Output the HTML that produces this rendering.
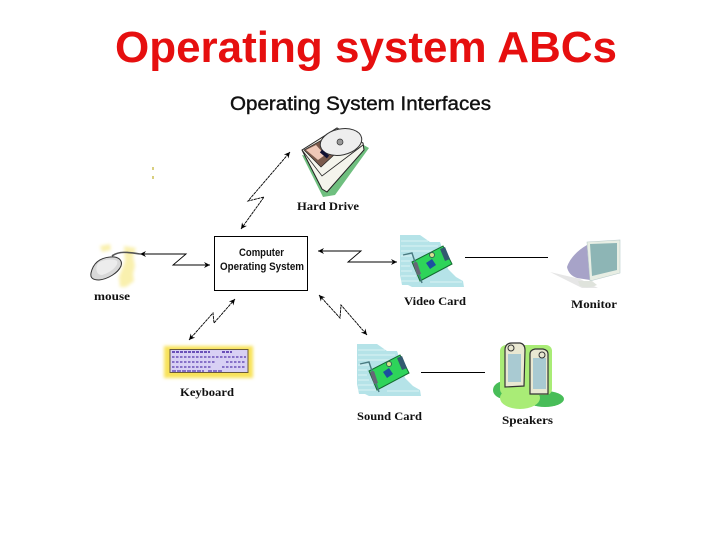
<!DOCTYPE html>
<html><head><meta charset="utf-8"><style>html,body{margin:0;padding:0;background:#fff}svg{display:block}</style></head>
<body>
<svg width="720" height="540" viewBox="0 0 720 540" xmlns="http://www.w3.org/2000/svg">
<defs>
<marker id="a" markerWidth="7" markerHeight="7" refX="6" refY="3" orient="auto-start-reverse" markerUnits="userSpaceOnUse"><path d="M0 0L6 3L0 6L2 3Z" fill="#000"/></marker>
<filter id="b" x="-20%" y="-20%" width="140%" height="140%"><feGaussianBlur stdDeviation="1.500"/></filter>
<filter id="s" x="-5%" y="-5%" width="110%" height="110%"><feGaussianBlur stdDeviation=".35"/></filter>
<g id="card">
<path d="M0 0H20L30 7H40L44 18L48 34L56 42L63 46L64 52H12L8 50H2L0 40Z" fill="#b5e3e8" filter="url(#s)"/>
<g stroke="#dcf3f5" stroke-width="1"><path d="M1 6H28M1 11H38M1 16H40M1 21H12M1 26H10M1 31H10M1 36H12M1 41H16M1 46H20M30 47H62"/></g>
<path d="M12 27L43 11L52 29L20 46Z" fill="#2ed45a" stroke="#136a30" stroke-width="1"/>
<path d="M26 28l6-4 4 6-6 4z" fill="#1c4fa0"/>
<path d="M40 14l5-2 5 12-5 2z" fill="#335a70"/>
<circle cx="32" cy="20" r="2.500" fill="#d8e090" stroke="#365"/>
<path d="M3 20L12 18L22 48" fill="none" stroke="#4a7a80" stroke-width="1.400"/>
<path d="M13 28l4-1 4 12-4 1z" fill="#667"/>
</g>
</defs>

<text x="115" y="62" font-family="Liberation Sans" font-size="44" font-weight="700" fill="#e60f0f" textLength="502" lengthAdjust="spacingAndGlyphs">Operating system ABCs</text>
<text x="230" y="110" font-family="Liberation Sans" font-size="19" fill="#111" stroke="#111" stroke-width=".4" textLength="261" lengthAdjust="spacingAndGlyphs">Operating System Interfaces</text>

<!-- hard drive -->
<path d="M302 155L323 197L335 195L369 148L360 143L330 160Z" fill="#6fbf7f"/>
<path d="M302 150L337 128L363 143L364 150L327 192L322 189Z" fill="#f4f4ec" stroke="#222" stroke-width="1"/>
<path d="M302 150L322 176L363 145" fill="none" stroke="#222" stroke-width=".8"/>
<path d="M304 150L322 140L334 155L321 167Z" fill="#7a5a4c" stroke="#222" stroke-width=".7"/>
<path d="M306 150L316 145L325 155L318 160Z" fill="#efc8b8"/>
<ellipse cx="341" cy="142" rx="21" ry="13" transform="rotate(-12 341 142)" fill="#eeeeee" stroke="#333"/>
<circle cx="340" cy="142" r="3" fill="#999" stroke="#333" stroke-width=".7"/>
<path d="M321 151L328 157" stroke="#113" stroke-width="3.500"/>

<!-- box -->
<rect x="214.500" y="236.500" width="93" height="54" fill="#fff" stroke="#000" stroke-width="1"/>
<g font-family="Liberation Sans" font-size="11" font-weight="700" fill="#111">
<text x="239" y="256" textLength="45" lengthAdjust="spacingAndGlyphs">Computer</text>
<text x="220" y="270" textLength="84" lengthAdjust="spacingAndGlyphs">Operating System</text>
</g>

<!-- mouse -->
<g fill="#f9f0ae" filter="url(#b)"><path d="M124 246l12 2-3 8 2 10-2 8 1 7-8 6-6 0-1-10 6-16z"/><path d="M100 246l10-2 1 6-9 2z"/></g>
<path d="M112 256C118 251 128 252 140 254" fill="none" stroke="#555" stroke-width="1.600"/>
<path d="M91 273C93 264 99 258 110 257C118 256 123 260 121 266C118 273 108 279 99 280C93 280 90 278 91 273Z" fill="#d8d8d8" stroke="#333" stroke-width="1"/>
<path d="M98 263C102 260 112 258 117 261C119 265 112 272 102 275C96 275 95 268 98 263Z" fill="#ececec"/>

<!-- connectors -->
<g fill="none" stroke="#000" stroke-width=".9">
<path d="M140 254H186L173 265H210" marker-start="url(#a)" marker-end="url(#a)"/>
<path d="M318 251H361L348 262H397" marker-start="url(#a)" marker-end="url(#a)"/>
<path d="M241 229L264 197L248 201L290 152" marker-start="url(#a)" marker-end="url(#a)" stroke-dasharray="3 .6"/>
<path d="M235 299L214 323L213 313L189 340" marker-start="url(#a)" marker-end="url(#a)" stroke-dasharray="3 .6"/>
<path d="M319 295L340 318L341 305L367 335" marker-start="url(#a)" marker-end="url(#a)" stroke-dasharray="3 .6"/>
</g>
<path d="M465 257.500H548M421 372.500H485" stroke="#000" stroke-width="1"/>
<rect x="152" y="167" width="2" height="3" fill="#d9cf80"/><rect x="152" y="176" width="2" height="3" fill="#d9cf80"/>

<!-- cards -->
<use href="#card" x="400" y="235"/>
<use href="#card" x="357" y="344"/>

<!-- monitor -->
<path d="M550 272L580 279L598 288H582Z" fill="#e6e6e6" filter="url(#s)"/>
<path d="M567 267C570 258 578 250 587 245L590 280L577 278C571 276 568 272 567 267Z" fill="#a7a3c8"/>
<path d="M587 242L620 240L620 273L590 281Z" fill="#e8eee4" stroke="#bcc" stroke-width=".6"/>
<path d="M590 244L617 243L617 270L592 276Z" fill="#8db5b5"/>
<path d="M578 281L592 281L597 285Q588 289 580 286Z" fill="#dfe3dc"/>

<!-- keyboard -->
<rect x="164" y="346" width="89" height="32" fill="#f8e25a" filter="url(#b)"/>
<rect x="170" y="349.500" width="78" height="23" fill="#d8d0f4" stroke="#6a5a3a" stroke-width="1"/>
<g fill="none" stroke="#6a50b8" stroke-width="2"><path d="M172 352H210M222 352H232" stroke-dasharray="3 1"/><path d="M172 357H246M172 362H216M226 362H246M172 367H212M222 367H246" stroke-dasharray="2.500 1.500" stroke-width="1.500"/><path d="M172 371H204M208 371H222" stroke-dasharray="4 1" stroke-width="1.500"/></g>

<!-- speakers -->
<ellipse cx="505" cy="390" rx="12" ry="9" fill="#48bd58"/>
<ellipse cx="545" cy="399" rx="19" ry="8" fill="#48bd58"/>
<rect x="500" y="345" width="52" height="50" rx="6" fill="#a9ec76"/>
<ellipse cx="520" cy="398" rx="20" ry="11" fill="#a9ec76"/>
<path d="M505 350Q505 343 512 343L520 343Q525 344 525 350L524 386L505 387Z" fill="#e9e8d2" stroke="#333" stroke-width="1.200"/>
<rect x="508" y="354" width="13" height="28" fill="#a9cad2"/>
<circle cx="511" cy="348" r="3" fill="#e9e8d2" stroke="#333"/>
<path d="M530 354Q530 350 535 349L543 349Q548 350 548 354V394L530 394Z" fill="#e9e8d2" stroke="#333" stroke-width="1.200"/>
<rect x="533" y="358" width="13" height="31" fill="#a9cad2"/>
<circle cx="542" cy="355" r="3" fill="#e9e8d2" stroke="#333"/>

<!-- labels -->
<g font-family="Liberation Serif" font-size="11.500" font-weight="700" fill="#111">
<text x="297" y="210" textLength="62" lengthAdjust="spacingAndGlyphs">Hard Drive</text>
<text x="94" y="300" textLength="36" lengthAdjust="spacingAndGlyphs">mouse</text>
<text x="404" y="305" textLength="62" lengthAdjust="spacingAndGlyphs">Video Card</text>
<text x="571" y="308" textLength="46" lengthAdjust="spacingAndGlyphs">Monitor</text>
<text x="180" y="396" textLength="54" lengthAdjust="spacingAndGlyphs">Keyboard</text>
<text x="357" y="420" textLength="65" lengthAdjust="spacingAndGlyphs">Sound Card</text>
<text x="502" y="424" textLength="51" lengthAdjust="spacingAndGlyphs">Speakers</text>
</g>
</svg>
</body></html>
